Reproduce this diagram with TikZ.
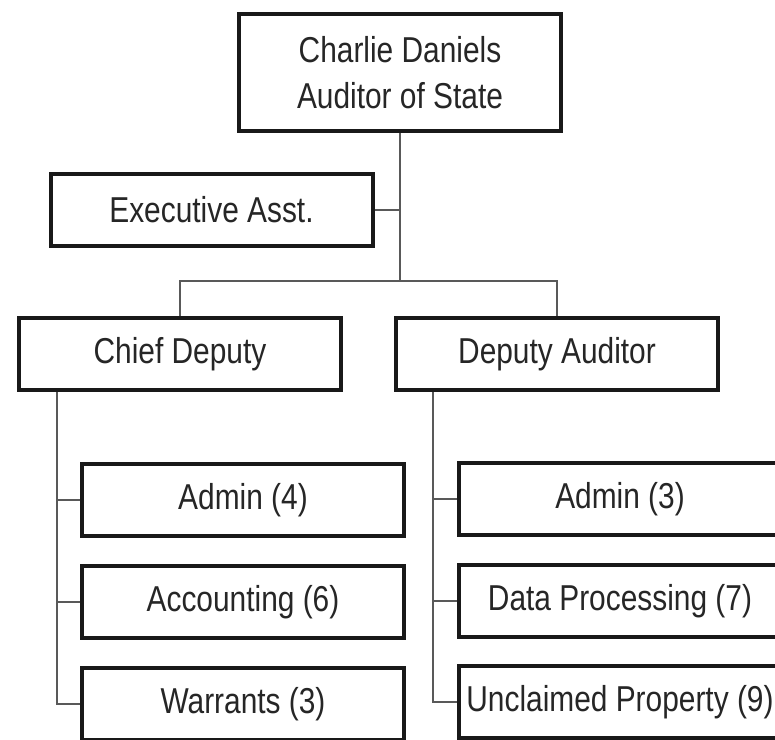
\documentclass[tikz,border=0pt]{standalone}
\usepackage{fontspec}
\setmainfont{Liberation Sans}[FakeStretch=0.83]
\usetikzlibrary{positioning}
\tikzset{
    post/.style={
        draw=black!90,
        line width=4pt,
        fill=white,
        minimum width=322pt,
        minimum height=72pt,
        inner sep=0pt,
        align=center,
        text=black!85,
        font=\fontsize{36}{46}\selectfont
    },
    link/.style={
        draw=black!65,
        line width=2pt
    }
}

\begin{document}
\begin{tikzpicture}[x=1pt, y=-1pt]
    \path[use as bounding box, fill=white] (0,0) rectangle (775,739);
    \clip (0,0) rectangle (775,739);
    % Boxes
    \node[post, minimum height=117pt] (auditor) at (400,72.5) {Charlie Daniels\\Auditor of State};
    \node[post] (exec) at (211.5,209.5) {Executive Asst.};
    \node[post] (chief) at (180,354) {Chief Deputy};
    \node[post] (deputy) at (557,354) {Deputy Auditor};
    \node[post] (cadmin) at (243,500) {Admin (4)};
    \node[post] (cacct) at (243,602) {Accounting (6)};
    \node[post] (cwarr) at (243,704) {Warrants (3)};
    \node[post] (dadmin) at (620,499) {Admin (3)};
    \node[post] (ddata) at (620,601) {Data Processing (7)};
    \node[post] (dprop) at (620,702) {Unclaimed Property (9)};
    \coordinate (hub) at (400,281);
    \coordinate (cspine) at ([xshift=40pt]chief.south west);
    \coordinate (dspine) at ([xshift=39pt]deputy.south west);

    % Lines
    \draw[link] (auditor.south) -- (hub);
    \draw[link] (exec.east) -- (exec.east -| hub);
    \draw[link] (chief.north) |- (hub) -| (deputy.north);
    \draw[link] (cspine) |- (cwarr.west);
    \draw[link] (cadmin.west) -- (cadmin.west -| cspine);
    \draw[link] (cacct.west) -- (cacct.west -| cspine);
    \draw[link] (dspine) |- (dprop.west);
    \draw[link] (dadmin.west) -- (dadmin.west -| dspine);
    \draw[link] (ddata.west) -- (ddata.west -| dspine);
\end{tikzpicture}
\end{document}
